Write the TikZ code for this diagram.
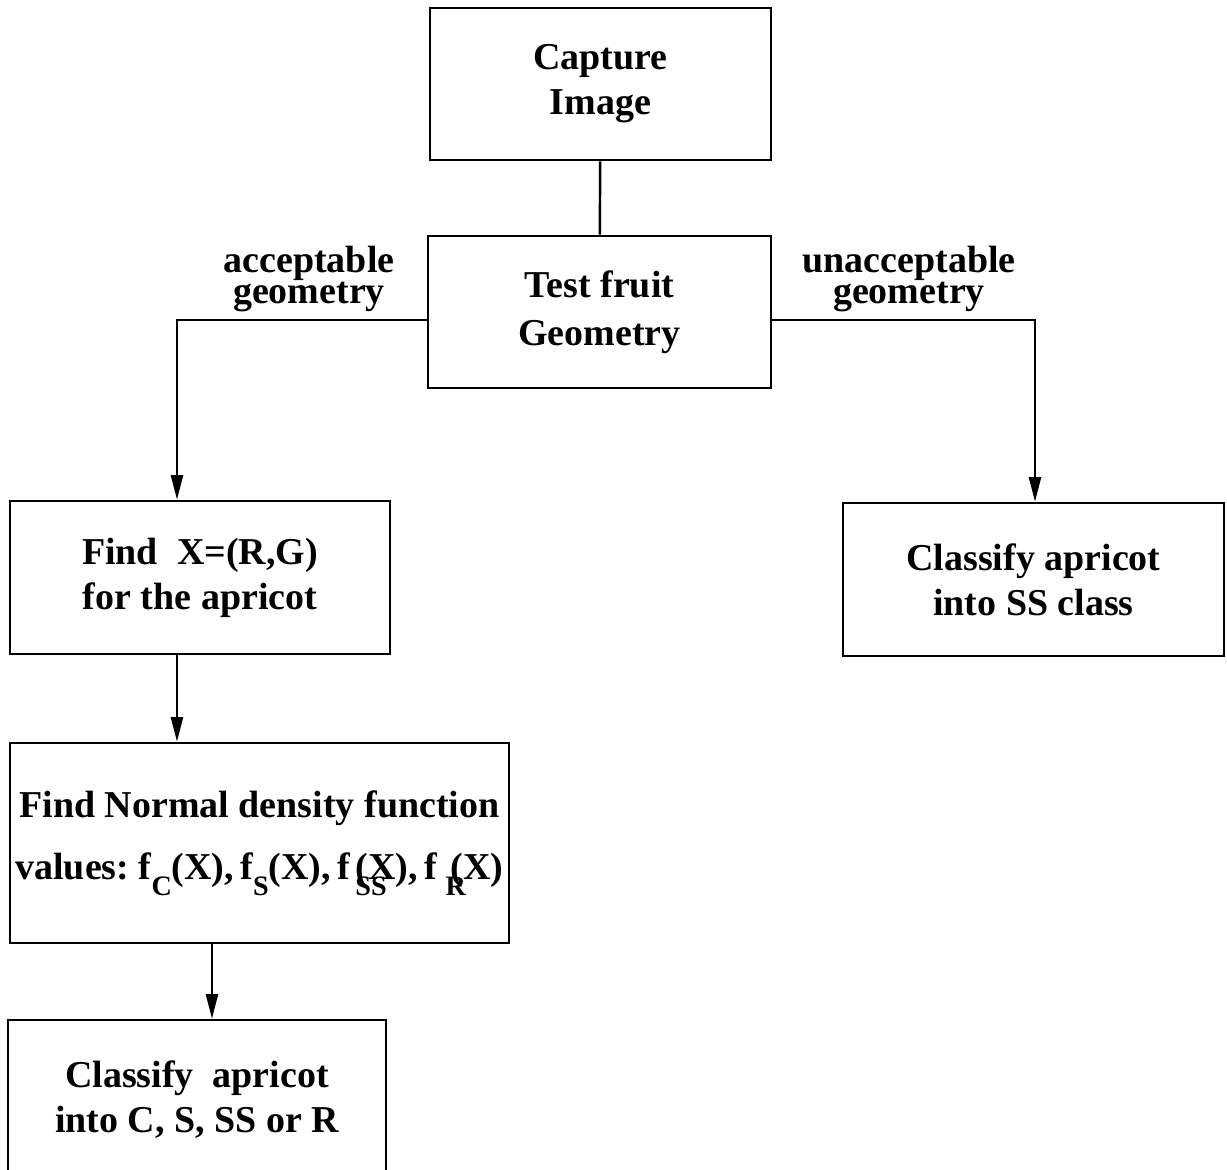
\documentclass[tikz,border=0pt]{standalone}
\usepackage{fontspec}
\setmainfont{Liberation Serif}
\usetikzlibrary{arrows.meta}
% lowered subscript used in the density values
\newcommand{\subIdx}[1]{\raisebox{-4.5pt}{\footnotesize #1}}
% let two label lines sit close together
\newcommand{\tightLines}{\lineskiplimit=-20pt\relax}

\begin{document}
\begin{tikzpicture}[x=0.01cm,y=-0.01cm,line width=0.7pt,
  box/.style={draw,rectangle,align=center,font=\bfseries\fontsize{10.8}{12.8}\selectfont},
  tag/.style={align=center,font=\bfseries\fontsize{10.8}{8.6}\selectfont\tightLines},
  arr/.style={-{Triangle[length=7pt,width=3.4pt]}}]

  \useasboundingbox (0,0) rectangle (1227,1169);

  \node [box,minimum width=3.41cm,minimum height=1.52cm] (capture) at (600.5,84) {Capture\\Image};
  \node [box,minimum width=3.43cm,minimum height=1.52cm] (test) at (599.5,312) {Test fruit\\[1pt]Geometry};

  \node [box,minimum width=3.80cm,minimum height=1.53cm] (findx) at (200,577.5) {Find\ \ X=(R,G)\\for the apricot};
  \node [box,minimum width=3.81cm,minimum height=1.53cm] (classss) at (1033.5,579.5) {Classify apricot\\into SS class};

  \node [box,inner xsep=0pt,minimum width=4.99cm,minimum height=2.00cm] (normal) at (259.5,843)
    {Find Normal density function\\[5pt]
     {\spaceskip=0.17em values: f\subIdx{C}(X), f\subIdx{S}(X), f\kern1.5pt\rlap{\subIdx{SS}}(X), f\kern2.5pt\rlap{\subIdx{R}}\kern1.5pt(X)}};

  \node [box,minimum width=3.78cm,minimum height=1.60cm] (classify) at (197,1100) {Classify\ \ apricot\\into C, S, SS or R};

  % branch labels
  \node [tag] (acc) at (309,279) {acceptable\\geometry};
  \node [tag] (unacc) at (909,279) {unacceptable\\geometry};

  \draw (capture) -- (test);
  \draw [arr] ([yshift=-0.08cm]test.west) -| ([xshift=-0.23cm]findx.north);
  \draw [arr] ([yshift=-0.08cm]test.east) -| ([xshift=0.015cm]classss.north);
  \draw [arr] ([xshift=-0.23cm]findx.south) -- ([xshift=-0.23cm]findx.south |- normal.north);
  \draw [arr] ([xshift=-0.475cm]normal.south) -- ([xshift=-0.475cm]normal.south |- classify.north);

\end{tikzpicture}
\end{document}
